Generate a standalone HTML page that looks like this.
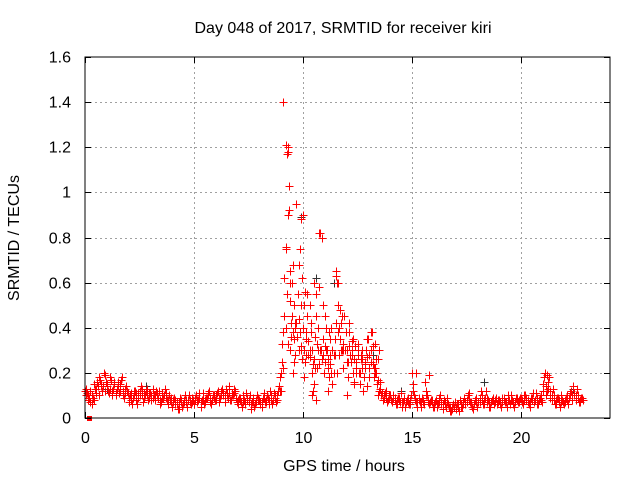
<!DOCTYPE html>
<html><head><meta charset="utf-8"><style>
body{margin:0;background:#fff;}
svg text{font-family:"Liberation Sans",sans-serif;font-size:16px;fill:#000;}
</style></head><body>
<svg id="chart" width="640" height="480" xmlns="http://www.w3.org/2000/svg">
<rect width="640" height="480" fill="#fff"/>
<text x="343" y="33" text-anchor="middle">Day 048 of 2017, SRMTID for receiver kiri</text>
<text transform="translate(19,238) rotate(-90)" text-anchor="middle">SRMTID / TECUs</text>
<text x="344" y="471" text-anchor="middle">GPS time / hours</text>
<g id="grid"></g>
<g id="marks"></g>
<rect x="85" y="57" width="525" height="361" fill="none" stroke="#000" stroke-width="1"/>
<g id="ticks"></g>
</svg>
<script>
const xTicks=[0,5,10,15,20];
const yTicks=[0,0.2,0.4,0.6,0.8,1,1.2,1.4,1.6];
const yTickLabels=["0","0.2","0.4","0.6","0.8","1","1.2","1.4","1.6"];
const red1=[0.12,0.11,0.09,0.06,0.08,0.11,0.14,0.17,0.12,0.19,
0.15,0.11,0.17,0.13,0.10,0.16,0.12,0.18,0.09,0.14,
0.07,0.11,0.09,0.12,0.06,0.10,0.13,0.09,0.12,0.08,
0.11,0.13,0.08,0.10,0.12,0.07,0.09,0.11,0.06,0.08,
0.05,0.09,0.07,0.04,0.08,0.06,0.10,0.05,0.07,0.09,
0.06,0.10,0.08,0.05,0.11,0.07,0.09,0.12,0.06,0.10,
0.08,0.12,0.09,0.13,0.07,0.11,0.14,0.08,0.10,0.12,
0.06,0.09,0.05,0.08,0.11,0.07,0.04,0.09,0.06,0.10,
0.08,0.05,0.11,0.07,0.09,0.12,0.06,0.10,0.08,0.14,
0.2,0.38,0.75,1.2,0.6,0.45,0.35,0.95,0.3,0.5,
0.4,0.25,0.55,0.3,0.2,0.15,0.45,0.3,0.82,0.35,
0.25,0.3,0.18,0.4,0.2,0.65,0.5,0.35,0.3,0.45,
0.3,0.38,0.25,0.2,0.32,0.28,0.15,0.22,0.18,0.3,
0.35,0.25,0.32,0.2,0.15,0.12,0.1,0.09,0.12,0.08,
0.1,0.07,0.09,0.06,0.08,0.11,0.07,0.05,0.09,0.06,
0.2,0.1,0.07,0.09,0.05,0.08,0.16,0.1,0.06,0.08,
0.05,0.08,0.06,0.1,0.04,0.07,0.09,0.05,0.03,0.06,
0.04,0.06,0.08,0.05,0.09,0.07,0.11,0.06,0.04,0.08,
0.05,0.07,0.1,0.06,0.12,0.08,0.05,0.09,0.07,0.06,
0.08,0.05,0.09,0.07,0.1,0.06,0.08,0.05,0.09,0.07,
0.09,0.06,0.1,0.08,0.05,0.09,0.07,0.11,0.06,0.1,
0.15,0.2,0.12,0.18,0.08,0.1,0.06,0.09,0.05,0.08,
0.07,0.1,0.09,0.12,0.14,0.08,0.1,0.07,0.09];
const red2=[0.13,0.10,0.07,0.09,0.13,0.16,0.10,0.14,0.20,0.16,
0.12,0.18,0.10,0.15,0.13,0.11,0.17,0.10,0.13,0.11,
0.10,0.06,0.12,0.08,0.11,0.14,0.07,0.10,0.13,0.11,
0.08,0.10,0.12,0.09,0.06,0.11,0.13,0.08,0.10,0.07,
0.08,0.06,0.04,0.09,0.05,0.07,0.08,0.10,0.06,0.08,
0.09,0.07,0.11,0.08,0.06,0.09,0.11,0.07,0.10,0.08,
0.11,0.07,0.12,0.10,0.13,0.09,0.08,0.11,0.13,0.07,
0.09,0.07,0.10,0.06,0.08,0.10,0.07,0.05,0.08,0.09,
0.06,0.09,0.07,0.10,0.06,0.08,0.11,0.07,0.12,0.18,
0.33,0.62,1.17,0.92,0.42,0.68,0.28,0.55,0.38,0.26,
0.5,0.35,0.28,0.42,0.12,0.36,0.22,0.58,0.8,0.2,
0.4,0.22,0.28,0.15,0.35,0.6,0.28,0.42,0.22,0.38,
0.18,0.28,0.34,0.15,0.25,0.2,0.28,0.12,0.25,0.35,
0.22,0.38,0.18,0.26,0.1,0.16,0.08,0.11,0.07,0.1,
0.08,0.1,0.06,0.09,0.07,0.05,0.09,0.08,0.06,0.1,
0.15,0.08,0.05,0.07,0.09,0.06,0.12,0.07,0.08,0.05,
0.07,0.05,0.09,0.06,0.08,0.05,0.06,0.03,0.05,0.07,
0.06,0.03,0.05,0.07,0.06,0.1,0.07,0.05,0.06,0.09,
0.07,0.12,0.06,0.09,0.07,0.05,0.08,0.06,0.09,0.08,
0.06,0.09,0.07,0.05,0.08,0.1,0.06,0.09,0.07,0.09,
0.07,0.1,0.08,0.06,0.09,0.11,0.08,0.06,0.09,0.07,
0.18,0.1,0.16,0.09,0.13,0.06,0.09,0.07,0.1,0.06,
0.09,0.06,0.11,0.08,0.1,0.13,0.07,0.09,0.08];
const red3=[0.1,0.08,0.12,0.1,0.15,0.13,0.18,0.15,0.14,0.12,
0.14,0.13,0.12,0.16,0.11,0.14,0.15,0.12,0.11,0.12,
0.09,0.08,0.1,0.11,0.09,0.12,0.1,0.11,0.1,0.09,
0.1,0.09,0.1,0.11,0.08,0.09,0.1,0.09,0.08,0.09,
0.07,0.08,0.06,0.07,0.07,0.08,0.07,0.08,0.08,0.07,
0.08,0.08,0.09,0.07,0.08,0.08,0.1,0.09,0.08,0.09,
0.1,0.09,0.1,0.11,0.1,0.1,0.11,0.1,0.11,0.09,
0.08,0.08,0.07,0.07,0.09,0.08,0.06,0.07,0.07,0.08,
0.07,0.07,0.09,0.08,0.08,0.1,0.08,0.09,0.1,0.12,
0.25,0.45,0.4,0.33,0.52,0.38,0.42,0.36,0.44,0.32,
0.3,0.38,0.34,0.27,0.3,0.26,0.33,0.24,0.3,0.28,
0.32,0.26,0.24,0.3,0.28,0.42,0.38,0.3,0.33,0.3,
0.25,0.32,0.28,0.26,0.22,0.3,0.2,0.26,0.22,0.27,
0.28,0.3,0.24,0.22,0.17,0.13,0.11,0.1,0.09,0.09,
0.08,0.09,0.08,0.08,0.09,0.07,0.08,0.07,0.07,0.08,
0.12,0.09,0.07,0.08,0.07,0.07,0.1,0.08,0.07,0.07,
0.06,0.06,0.07,0.07,0.06,0.06,0.07,0.05,0.04,0.05,
0.05,0.05,0.06,0.06,0.07,0.08,0.08,0.07,0.06,0.07,
0.07,0.09,0.08,0.08,0.09,0.07,0.07,0.08,0.08,0.07,
0.07,0.07,0.08,0.07,0.08,0.08,0.07,0.07,0.08,0.08,
0.08,0.08,0.09,0.07,0.07,0.08,0.08,0.09,0.08,0.08,
0.12,0.14,0.13,0.12,0.1,0.08,0.08,0.08,0.07,0.07,
0.08,0.08,0.1,0.1,0.11,0.1,0.09,0.08,0.08];
const extraX=[9.1,9.2,9.3,9.35,9.3,9.2,9.4,9.25,9.5,9.6,9.7,9.8,9.85,9.9,10.0,9.95,10.1,10.2,10.3,10.5,10.6,10.7,10.8,10.75,10.9,11.0,11.2,11.5,11.6,11.7,11.8,12.1,12.3,12.5,12.7,13.1,13.3,13.5,9.4,9.6,10.4,10.6,11.3,12.0,9.0,9.1,15.8,15.2,21.2,
9.45,9.65,9.9,10.15,10.35,10.55,10.85,11.05,11.25,11.45,11.65,11.85,12.05,12.25,12.45,12.65,12.85,13.05,13.25,13.45,9.55,10.05,10.45,11.15,11.55,12.35,12.95,13.35];
const extraY=[1.4,1.21,1.18,1.03,0.9,0.76,0.65,0.55,0.6,0.5,0.42,0.68,0.75,0.88,0.9,0.62,0.56,0.45,0.5,0.6,0.55,0.4,0.3,0.82,0.5,0.45,0.38,0.63,0.6,0.48,0.45,0.42,0.35,0.33,0.3,0.38,0.33,0.3,0.3,0.25,0.1,0.08,0.2,0.1,0.12,0.22,0.19,0.2,0.19,
0.36,0.4,0.3,0.28,0.38,0.22,0.26,0.3,0.35,0.28,0.4,0.3,0.25,0.3,0.2,0.26,0.24,0.18,0.22,0.26,0.2,0.18,0.24,0.12,0.2,0.16,0.14,0.2];
const blackX=[1.0,2.8,6.6,9.9,10.6,11.4,13.2,18.3,22.4,14.5];
const blackY=[0.13,0.14,0.13,0.89,0.62,0.6,0.28,0.16,0.13,0.12];
const X0=85,XPX=21.8,Y0=418,YPX=225.6;
function sx(v){return X0+v*XPX;}
function sy(v){return Y0-v*YPX;}
const NS="http://www.w3.org/2000/svg";
const grid=document.getElementById('grid'),marks=document.getElementById('marks'),ticks=document.getElementById('ticks');
function ln(p,x1,y1,x2,y2,st,dash){const l=document.createElementNS(NS,'line');l.setAttribute('x1',x1);l.setAttribute('y1',y1);l.setAttribute('x2',x2);l.setAttribute('y2',y2);l.setAttribute('stroke',st);if(dash)l.setAttribute('stroke-dasharray',dash);p.appendChild(l);return l;}
yTicks.forEach((v,i)=>{const y=Math.round(sy(v))+0.5;
 if(i>0&&i<yTicks.length-1){const g=ln(grid,85,y,610,y,'#a0a0a0','2,3');
 
 }
 ln(ticks,85,y,91,y,'#000');ln(ticks,610,y,604,y,'#000');
 const t=document.createElementNS(NS,'text');t.setAttribute('x',71);t.setAttribute('y',y+5);t.setAttribute('text-anchor','end');t.textContent=yTickLabels[i];
 
 
 ticks.appendChild(t);});
xTicks.forEach(v=>{const x=Math.round(sx(v))+0.5;
 if(v>0){const g=ln(grid,x,57,x,418,'#a0a0a0','2,3');
 
 }
 ln(ticks,x,418,x,412,'#000');ln(ticks,x,57,x,63,'#000');
 const t=document.createElementNS(NS,'text');t.setAttribute('x',x);t.setAttribute('y',443);t.setAttribute('text-anchor','middle');t.textContent=String(v);
 
 
 ticks.appendChild(t);});
function plus(x,y,c,name){const p=document.createElementNS(NS,'path');
 const px=Math.round(sx(x))+0.5,py=Math.round(sy(y))+0.5;
 p.setAttribute('d',`M${px-4} ${py}H${px+4}M${px} ${py-4}V${py+4}`);p.setAttribute('stroke',c);p.setAttribute('fill','none');
 
 
 marks.appendChild(p);}
blackX.forEach((x,i)=>plus(x,blackY[i],'#333','black-point'));
red1.forEach((v,i)=>plus(i*0.1,v,'#f00','red-point'));
red2.forEach((v,i)=>plus(i*0.1+0.05,v,'#f00','red-point'));
red3.forEach((v,i)=>plus(i*0.1+0.025,v,'#f00','red-point'));
extraX.forEach((x,i)=>plus(x,extraY[i],'#f00','red-point'));
const sq=document.createElementNS(NS,'rect');sq.setAttribute('x',87);sq.setAttribute('y',416);sq.setAttribute('width',5);sq.setAttribute('height',5);sq.setAttribute('fill','#f00');


marks.appendChild(sq);
</script>
</body></html>
